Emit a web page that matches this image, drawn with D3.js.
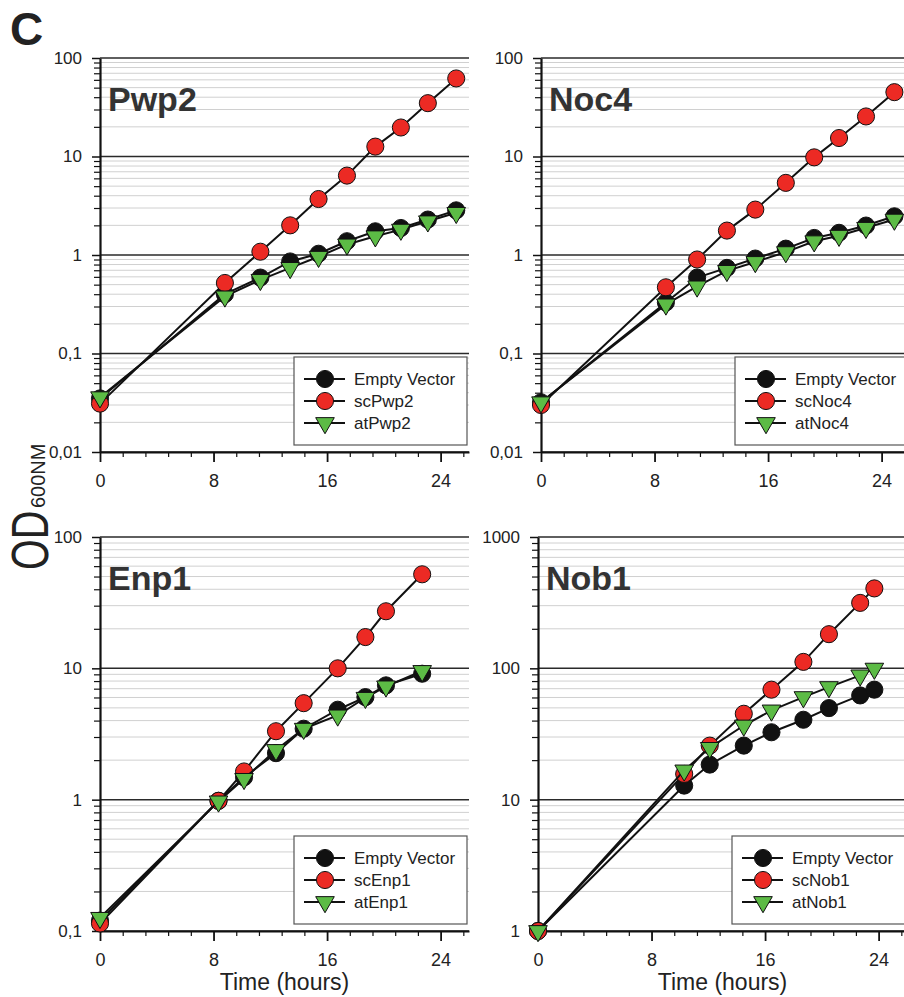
<!DOCTYPE html>
<html>
<head>
<meta charset="utf-8">
<script src="https://cdn.jsdelivr.net/npm/d3@7"></script>
<style>
  body { margin: 0; background: #fff; }
  svg { font-family: "Liberation Sans", Arial, sans-serif; }
  .axis path, .axis line { stroke: #111; }
  .axis text { fill: #222; }
</style>
</head>
<body>
<svg id="chart" width="904" height="997"></svg>
<script>
// Growth curves, OD600 on log scale vs time (hours)
const panelNames = ['Pwp2', 'Noc4', 'Enp1', 'Nob1'];
const seriesLabels = ['Empty Vector', 'sc', 'at'];
const yMins = [0.01, 0.01, 0.1, 1];
const yMaxs = [100, 100, 100, 1000];
const xMajorTicks = [0, 8, 16, 24];

const timesPwp2 = [0, 8.8, 11.3, 13.4, 15.4, 17.4, 19.4, 21.2, 23.1, 25.1];
const emptyPwp2 = [0.035, 0.40, 0.59, 0.86, 1.03, 1.38, 1.74, 1.88, 2.29, 2.84];
const scPwp2 = [0.031, 0.52, 1.08, 2.0, 3.7, 6.4, 12.6, 19.7, 34.8, 62];
const atPwp2 = [0.036, 0.38, 0.56, 0.74, 0.96, 1.28, 1.55, 1.81, 2.2, 2.68];

const timesNoc4 = [0, 8.8, 11.0, 13.1, 15.1, 17.25, 19.25, 21.0, 22.9, 24.9];
const emptyNoc4 = [0.032, 0.33, 0.59, 0.74, 0.92, 1.16, 1.49, 1.68, 1.99, 2.47];
const scNoc4 = [0.030, 0.47, 0.90, 1.77, 2.89, 5.4, 9.8, 15.4, 25.5, 45];
const atNoc4 = [0.032, 0.315, 0.48, 0.69, 0.85, 1.07, 1.38, 1.57, 1.89, 2.29];

const timesEnp1 = [0, 8.35, 10.15, 12.4, 14.35, 16.75, 18.7, 20.15, 22.7];
const emptyEnp1 = [0.12, 0.98, 1.48, 2.26, 3.47, 4.84, 6.04, 7.42, 9.1];
const scEnp1 = [0.114, 0.98, 1.64, 3.32, 5.43, 10.0, 17.3, 27.2, 52];
const atEnp1 = [0.126, 0.97, 1.44, 2.39, 3.47, 4.38, 5.97, 7.29, 9.55];

const timesNob1 = [0, 10.3, 12.1, 14.5, 16.45, 18.7, 20.5, 22.7, 23.7];
const emptyNob1 = [1, 12.8, 18.5, 25.8, 32.6, 40.6, 49.8, 62.2, 68.8];
const scNob1 = [1, 15.7, 25.8, 45.1, 68.8, 112, 182, 315, 406];
const atNob1 = [1, 16.7, 24.8, 36.7, 47.8, 60.4, 72, 88.4, 99.5];

const panelTimes = [timesPwp2, timesNoc4, timesEnp1, timesNob1];
const panelSeries = [
    [emptyPwp2, scPwp2, atPwp2],
    [emptyNoc4, scNoc4, atNoc4],
    [emptyEnp1, scEnp1, atEnp1],
    [emptyNob1, scNob1, atNob1]
];

// layout
const origins = [{ x: 100, y: 58 }, { x: 541, y: 58 }, { x: 100, y: 537 }, { x: 538, y: 537 }];
const plotW = 369, plotH = 394;
const fills = ['#111', '#ec2a24', '#5cbb45'];

const svg = d3.select('#chart');

const circle = d3.symbol().type(d3.symbolCircle).size(230);
const triangle = d3.symbol().type(d3.symbolTriangle).size(150);

function drawMarker(g, i, x, y) {
    const path = g.append('path')
        .attr('fill', fills[i])
        .attr('stroke', '#111')
        .attr('stroke-width', 1);
    if (i === 2) {
        path.attr('d', triangle()).attr('transform', `translate(${x},${y}) rotate(180)`);
    } else {
        path.attr('d', circle()).attr('transform', `translate(${x},${y})`);
    }
}

const commaFormat = d => String(d).replace('.', ',');

panelNames.forEach((name, p) => {
    const o = origins[p];
    const g = svg.append('g').attr('transform', `translate(${o.x},${o.y})`);

    const x = d3.scaleLinear().domain([0, 26]).range([0, plotW]);
    const y = d3.scaleLog().domain([yMins[p], yMaxs[p]]).range([plotH, 0]);

    const allTicks = y.ticks();
    const isMajor = v => Math.abs(Math.log10(v) - Math.round(Math.log10(v))) < 1e-6;
    const majors = allTicks.filter(isMajor);
    const minors = allTicks.filter(v => !isMajor(v));

    // grid
    g.append('g').selectAll('line').data(minors).join('line')
        .attr('x1', 0).attr('x2', plotW)
        .attr('y1', d => y(d)).attr('y2', d => y(d))
        .attr('stroke', '#d0d0d0').attr('stroke-width', 1);
    g.append('g').selectAll('line').data(majors).join('line')
        .attr('x1', 0).attr('x2', plotW)
        .attr('y1', d => y(d)).attr('y2', d => y(d))
        .attr('stroke', '#2a2a2a').attr('stroke-width', 1.5);

    // legend box (under the curves)
    const lg = g.append('g').attr('transform', `translate(194,299)`);
    lg.append('rect')
        .attr('width', 173).attr('height', 88)
        .attr('fill', '#fff').attr('stroke', '#555').attr('stroke-width', 1.2);

    // axes
    const yMinor = g.append('g').attr('class', 'axis')
        .call(d3.axisLeft(y).tickValues(minors).tickSize(6).tickSizeOuter(0).tickFormat(''));
    yMinor.select('.domain').remove();
    yMinor.selectAll('line').attr('stroke-width', 1.2);

    const yAxis = g.append('g').attr('class', 'axis')
        .call(d3.axisLeft(y).tickValues(majors).tickSize(8).tickPadding(10).tickSizeOuter(0).tickFormat(commaFormat));
    yAxis.select('.domain').attr('stroke-width', 2.2);
    yAxis.selectAll('line').attr('stroke-width', 1.5);
    yAxis.selectAll('text').style('font-size', '17px');

    const xMinorVals = d3.range(1, 17).map(k => k * 1.6).filter(v => v <= 26 && Math.abs(v / 8 - Math.round(v / 8)) > 1e-6);
    const xMinor = g.append('g').attr('class', 'axis').attr('transform', `translate(0,${plotH})`)
        .call(d3.axisBottom(x).tickValues(xMinorVals).tickSize(5).tickSizeOuter(0).tickFormat(''));
    xMinor.select('.domain').remove();
    xMinor.selectAll('line').attr('stroke-width', 1.2);

    const xAxis = g.append('g').attr('class', 'axis').attr('transform', `translate(0,${plotH})`)
        .call(d3.axisBottom(x).tickValues(xMajorTicks).tickSize(10).tickPadding(12).tickSizeOuter(0));
    xAxis.select('.domain').attr('stroke-width', 2.2);
    xAxis.selectAll('line').attr('stroke-width', 1.8);
    xAxis.selectAll('text').style('font-size', '18px');

    // title inside plot
    g.append('text')
        .attr('x', 8).attr('y', 53)
        .attr('fill', '#333')
        .style('font-size', '34px').style('font-weight', 'bold')
        .text(name);

    // series
    const times = panelTimes[p];
    const line = d3.line().x(d => x(d[0])).y(d => y(d[1]));
    panelSeries[p].forEach((vals, i) => {
        const pts = vals.map((v, k) => [times[k], v]);
        g.append('path').datum(pts)
            .attr('d', line)
            .attr('fill', 'none').attr('stroke', '#111').attr('stroke-width', 2);
        pts.forEach(pt => drawMarker(g, i, x(pt[0]), y(pt[1])));
    });

    // legend entries
    seriesLabels.forEach((lab, i) => {
        const ry = 22 + i * 22;
        lg.append('line')
            .attr('x1', 10).attr('x2', 51).attr('y1', ry).attr('y2', ry)
            .attr('stroke', '#111').attr('stroke-width', 2);
        drawMarker(lg, i, 31, ry);
        lg.append('text')
            .attr('x', 60).attr('y', ry).attr('dy', '0.36em')
            .attr('fill', '#222')
            .style('font-size', '17px')
            .text(i === 0 ? lab : lab + name);
    });

    // x title on bottom row
    if (p >= 2) {
        g.append('text')
            .attr('x', plotW / 2).attr('y', plotH + 59)
            .attr('text-anchor', 'middle')
            .attr('fill', '#222')
            .style('font-size', '23px')
            .text('Time (hours)');
    }
});

// panel letter
svg.append('text')
    .attr('x', 10).attr('y', 45)
    .attr('fill', '#222')
    .style('font-size', '46px').style('font-weight', 'bold')
    .text('C');

// shared y label
const yl = svg.append('g').attr('transform', 'translate(48,570) rotate(-90)');
yl.append('text')
    .attr('transform', 'scale(0.76,1)')
    .attr('fill', '#222')
    .style('font-size', '52px')
    .text('OD');
yl.append('text')
    .attr('x', 62).attr('y', -3)
    .attr('fill', '#222')
    .style('font-size', '20px')
    .text('600NM');
</script>
</body>
</html>
